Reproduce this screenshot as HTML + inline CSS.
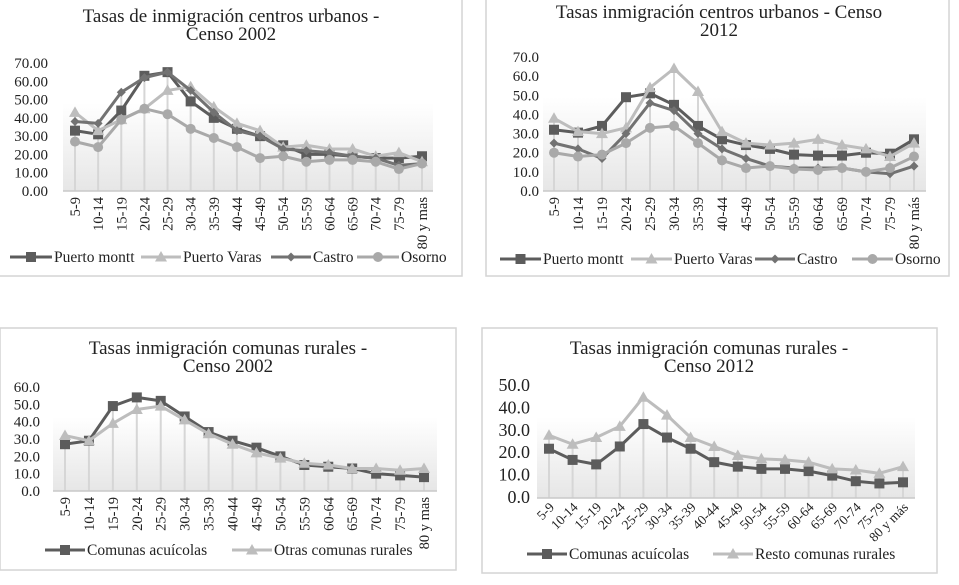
<!DOCTYPE html>
<html><head><meta charset="utf-8">
<style>
html,body{margin:0;padding:0;background:#fff;}
svg{display:block;font-family:"Liberation Serif",serif;}
</style></head>
<body>
<svg id="root" width="959" height="585" viewBox="0 0 959 585" xmlns="http://www.w3.org/2000/svg">
<defs>
<linearGradient id="bg" x1="0" y1="0" x2="0" y2="1">
<stop offset="0" stop-color="#ffffff"/><stop offset="1" stop-color="#e6e6e6"/>
</linearGradient>
</defs>
<rect x="-2" y="-2" width="464" height="278" fill="none" stroke="#d4d4d4" stroke-width="1.5"/>
<rect x="486" y="-2" width="463" height="278" fill="none" stroke="#d4d4d4" stroke-width="1.5"/>
<rect x="0" y="328" width="456" height="242" fill="none" stroke="#d4d4d4" stroke-width="1.5"/>
<rect x="482" y="328" width="455" height="245" fill="none" stroke="#d4d4d4" stroke-width="1.5"/>
<g id="g1"></g><g id="g2"></g><g id="g3"></g><g id="g4"></g>
</svg>
<script>
const catsA = ["5-9","10-14","15-19","20-24","25-29","30-34","35-39","40-44","45-49","50-54","55-59","60-64","65-69","70-74","75-79","80 y mas"];
const catsB = ["5-9","10-14","15-19","20-24","25-29","30-34","35-39","40-44","45-49","50-54","55-59","60-64","65-69","70-74","75-79","80 y más"];
// Chart 1: urban 2002
const u02Montt  = [33,31,44,63,65,49,40,34,30,25,20,20,19,18,18,19];
const u02Varas  = [43,33,39,45,55,57,46,37,33,24,25,23,23,19,21,16];
const u02Castro = [38,37,54,62,65,55,43,33,30,23,22,21,19,18,14,15];
const u02Osorno = [27,24,39,45,42,34,29,24,18,19,16,17,17,16,12,15];
const u02Ticks  = ["0.00","10.00","20.00","30.00","40.00","50.00","60.00","70.00"];
// Chart 2: urban 2012
const u12Montt  = [32,30.5,34,49,51,45,34,27,24,22,19,18.5,18.5,20,19.5,27];
const u12Varas  = [38,31,30,33,54,64,52,31,25,24,25,27,24,22,18,25];
const u12Castro = [25,22,17,30,46,42,30,22,17,13,12,12,12,10,9,13];
const u12Osorno = [20,18,19,25,33,34,25,16,12,13,11.5,11,12,10,12,18];
const u12Ticks  = ["0.0","10.0","20.0","30.0","40.0","50.0","60.0","70.0"];
// Chart 3: rural 2002
const r02Acui   = [27,29,49,54,52,43,34,29,25,20,15,14,13,10,9,8];
const r02Otras  = [32,29,39,47,49,41,33,27,22,19,16,15,13,13,12,13];
const r02Ticks  = ["0.0","10.0","20.0","30.0","40.0","50.0","60.0"];
// Chart 4: rural 2012
const r12Acui   = [22,17,15,23,33,27,22,16,14,13,13,12,10,7.5,6.5,7];
const r12Resto  = [28,24,27,32,45,37,27,23,19,17.5,17,16,13,12.5,11,14];
const r12Ticks  = ["0.0","10.0","20.0","30.0","40.0","50.0"];

const NS="http://www.w3.org/2000/svg";
function mk(tag,attrs,parent){const e=document.createElementNS(NS,tag);for(const k in attrs)e.setAttribute(k,attrs[k]);parent.appendChild(e);return e;}

function marker(g,type,x,y,color,s){
  let e;
  if(type==="square"){e=mk("rect",{x:x-s/2,y:y-s/2,width:s,height:s,fill:color},g);}
  else if(type==="triangle"){e=mk("polygon",{points:`${x},${y-s*0.6} ${x+s*0.6},${y+s*0.45} ${x-s*0.6},${y+s*0.45}`,fill:color},g);}
  else if(type==="diamond"){const d=s*0.5;e=mk("polygon",{points:`${x},${y-d} ${x+d},${y} ${x},${y+d} ${x-d},${y}`,fill:color},g);}
  else {e=mk("circle",{cx:x,cy:y,r:s*0.5,fill:color},g);}
  return e;
}

function draw(id,c){
  const g=document.getElementById(id);
  const yS=v=>c.y0-(v/c.max)*(c.y0-c.yTop);
  const xS=i=>c.x0+i*(c.x1-c.x0)/(c.cats.length-1);
  c.title.forEach((t,i)=>{
    const e=mk("text",{x:c.tx,y:c.ty+i*c.tl,"text-anchor":"middle","font-size":c.tf,fill:"#222"},g);e.textContent=t;
    
    
  });
  const bg=mk("rect",{x:c.ax0,y:c.bgTop,width:c.ax1-c.ax0,height:c.y0-c.bgTop,fill:"url(#bg)"},g);
  
  
  c.ticks.forEach((t,i)=>{
    const v=i*10;
    const e=mk("text",{x:c.tickX,y:yS(v)+5,"text-anchor":"end","font-size":c.yf,fill:"#222"},g);e.textContent=t;
    
    
  });
  c.cats.forEach((cat,i)=>{
    const m=Math.max(...c.series.map(s=>s.data[i]));
    const l=mk("line",{x1:xS(i),x2:xS(i),y1:c.y0,y2:yS(m),stroke:"#d6d6d6","stroke-width":2},g);
    
    
  });
  const ax=mk("line",{x1:c.ax0,x2:c.ax1,y1:c.y0,y2:c.y0,stroke:"#c8c8c8","stroke-width":1.5},g);
  
  
  c.cats.forEach((cat,i)=>{
    let e;
    if(c.rot===90){
      e=mk("text",{x:0,y:0,"text-anchor":"end","font-size":c.xf,fill:"#222",transform:`translate(${xS(i)+5},${c.y0+6}) rotate(-90)`},g);
    }else{
      e=mk("text",{x:0,y:0,"text-anchor":"end","font-size":c.xf,fill:"#222",transform:`translate(${xS(i)+6},${c.y0+10}) rotate(-45)`},g);
    }
    e.textContent=cat;
    
    
  });
  c.series.forEach(s=>{
    const pts=s.data.map((v,i)=>`${xS(i)},${yS(v)}`).join(" ");
    const pl=mk("polyline",{points:pts,fill:"none",stroke:s.color,"stroke-width":3,"stroke-linejoin":"round"},g);
    
    
    s.data.forEach((v,i)=>{
      const m=marker(g,s.marker,xS(i),yS(v),s.color,s.size);
      
      
    });
    const ly=c.ly;
    const ll=mk("line",{x1:s.lx0,x2:s.lx1,y1:ly,y2:ly,stroke:s.color,"stroke-width":3},g);
    
    
    const lm=marker(g,s.marker,(s.lx0+s.lx1)/2,ly,s.color,s.size);
    
    
    const lt=mk("text",{x:s.lx1+2,y:ly+5,"font-size":c.lf,fill:"#222"},g);lt.textContent=s.name;
    
    
  });
}

const DK="#5c5c5c",LT="#bdbdbd",MD="#727272",LM="#a9a9a9";
draw("g1",{title:["Tasas de inmigración centros urbanos -","Censo  2002"],tx:231,ty:22,tl:18,tf:19,
  ticks:u02Ticks,max:70,y0:191,yTop:63,bgTop:103,tickX:48,yf:15,
  cats:catsA,x0:75,x1:422,ax0:63,ax1:433,rot:90,xf:14.5,ly:257,lf:15.5,
  series:[
   {key:"puerto-montt",name:"Puerto montt",data:u02Montt,color:DK,marker:"square",size:10,lx0:10,lx1:52},
   {key:"puerto-varas",name:"Puerto Varas",data:u02Varas,color:LT,marker:"triangle",size:10,lx0:141,lx1:181},
   {key:"castro",name:"Castro",data:u02Castro,color:MD,marker:"diamond",size:9,lx0:271,lx1:311},
   {key:"osorno",name:"Osorno",data:u02Osorno,color:LM,marker:"circle",size:10,lx0:357,lx1:399}]});
draw("g2",{title:["Tasas inmigración centros urbanos - Censo","2012"],tx:719,ty:18,tl:18,tf:19,
  ticks:u12Ticks,max:70,y0:191,yTop:57,bgTop:97,tickX:539,yf:15,
  cats:catsB,x0:554,x1:914,ax0:543,ax1:926,rot:90,xf:14.5,ly:259,lf:15.5,
  series:[
   {key:"puerto-montt",name:"Puerto montt",data:u12Montt,color:DK,marker:"square",size:10,lx0:500,lx1:541},
   {key:"puerto-varas",name:"Puerto Varas",data:u12Varas,color:LT,marker:"triangle",size:10,lx0:631,lx1:672},
   {key:"castro",name:"Castro",data:u12Castro,color:MD,marker:"diamond",size:9,lx0:755,lx1:795},
   {key:"osorno",name:"Osorno",data:u12Osorno,color:LM,marker:"circle",size:10,lx0:852,lx1:893}]});
draw("g3",{title:["Tasas inmigración comunas rurales -","Censo 2002"],tx:228,ty:354,tl:18,tf:19,
  ticks:r02Ticks,max:60,y0:491,yTop:387,bgTop:417,tickX:40,yf:15,
  cats:catsA,x0:65,x1:424,ax0:53,ax1:437,rot:90,xf:14.5,ly:550,lf:15.5,
  series:[
   {key:"comunas-acuicolas",name:"Comunas acuícolas",data:r02Acui,color:DK,marker:"square",size:10,lx0:45,lx1:85},
   {key:"otras-comunas-rurales",name:"Otras comunas rurales",data:r02Otras,color:LT,marker:"triangle",size:10,lx0:232,lx1:272}]});
draw("g4",{title:["Tasas inmigración comunas rurales -","Censo 2012"],tx:709,ty:354,tl:18,tf:19,
  ticks:r12Ticks,max:50,y0:498,yTop:386,bgTop:417,tickX:530,yf:18,
  cats:catsB,x0:549,x1:903,ax0:537,ax1:915,rot:45,xf:13.5,ly:554,lf:15.5,
  series:[
   {key:"comunas-acuicolas",name:"Comunas acuícolas",data:r12Acui,color:DK,marker:"square",size:10,lx0:527,lx1:567},
   {key:"resto-comunas-rurales",name:"Resto comunas rurales",data:r12Resto,color:LT,marker:"triangle",size:10,lx0:713,lx1:753}]});
</script>
</body></html>
